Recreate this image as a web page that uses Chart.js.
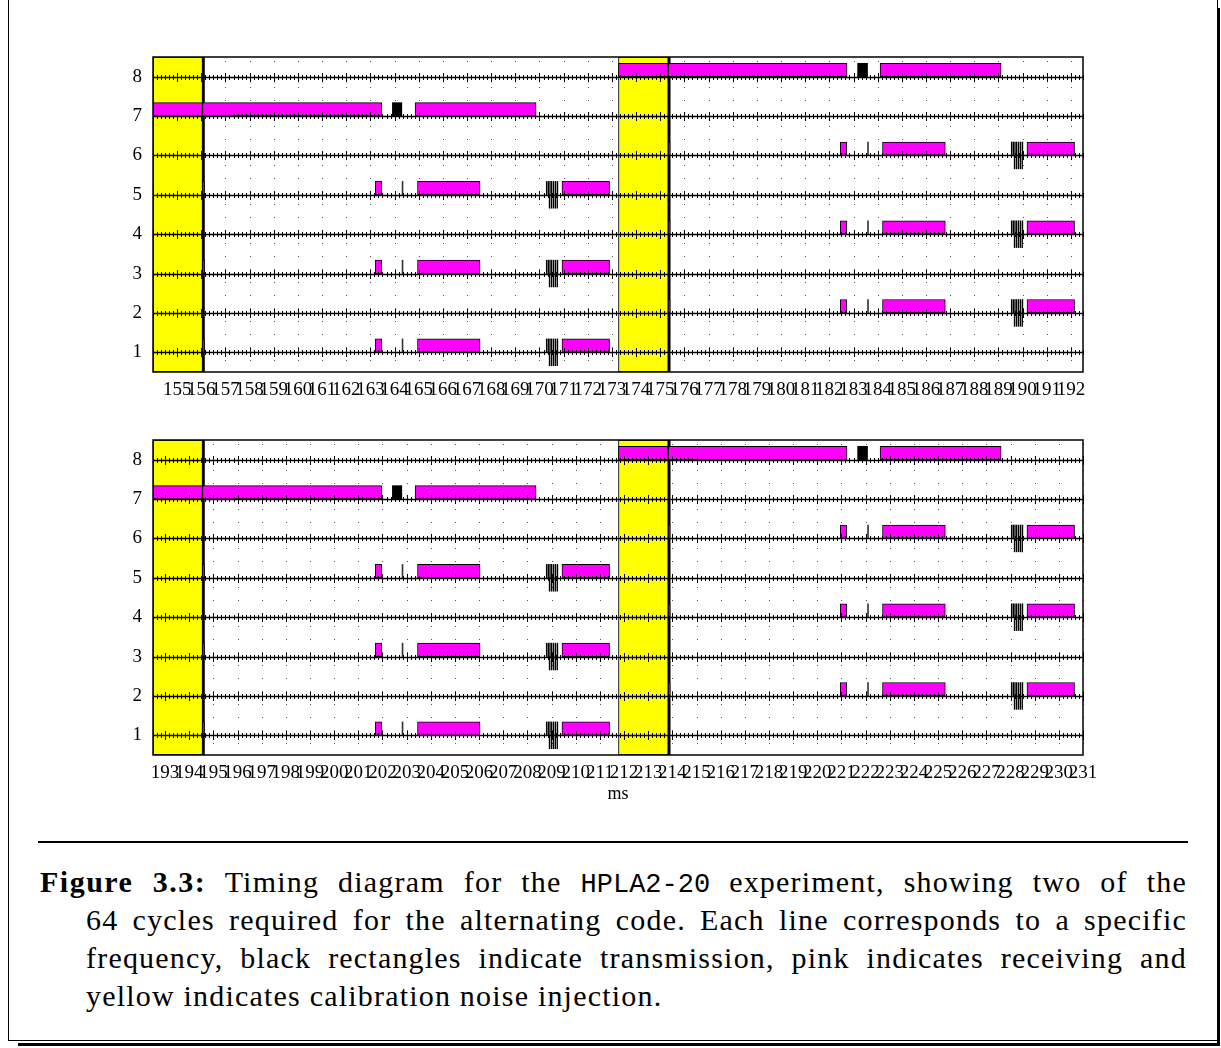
<!DOCTYPE html>
<html><head><meta charset="utf-8">
<script src="https://cdn.jsdelivr.net/npm/chart.js@4.4.1/dist/chart.umd.min.js"></script>
<style>
html,body{margin:0;padding:0;background:#fff;width:1221px;height:1048px;overflow:hidden;position:relative;font-family:"Liberation Serif",serif;color:#000;}
canvas{position:absolute;left:0;}
#c1{top:0}
#c2{top:410px}
#ms{position:absolute;left:568px;width:100px;text-align:center;top:783px;font-size:18px;}
#frame{position:absolute;left:8px;top:-1px;width:1208px;height:1040px;border:1px solid #000;}
#shadowB{position:absolute;left:18px;top:1043px;width:1202px;height:3px;background:#000;}
#shadowR{position:absolute;left:1217px;top:8px;width:3px;height:1038px;background:#000;}
#rule{position:absolute;left:38px;top:841px;width:1150px;height:2px;background:#000;}
#cap{position:absolute;left:40px;top:863px;width:1147px;font-size:30px;letter-spacing:1.2px;}
#cap .ln{height:38px;line-height:38px;text-align:justify;text-align-last:justify;white-space:normal;}
#cap .ln *{line-height:38px;}
#cap .in{padding-left:46px;}
#cap .last{text-align:left;text-align-last:left;}
#cap b{letter-spacing:1.5px;}
#cap .tt{font-family:"Liberation Mono",monospace;font-size:27px;letter-spacing:0;}
</style></head>
<body>
<div id="frame"></div><div id="shadowB"></div><div id="shadowR"></div>
<canvas id="c1" width="1221" height="410"></canvas>
<canvas id="c2" width="1221" height="420"></canvas>
<div id="ms">ms</div>
<div id="rule"></div>
<div id="cap">
<div class="ln"><b>Figure 3.3:</b> Timing diagram for the <span class="tt">HPLA2-20</span> experiment, showing two of the</div>
<div class="ln in">64 cycles required for the alternating code. Each line corresponds to a specific</div>
<div class="ln in">frequency, black rectangles indicate transmission, pink indicates receiving and</div>
<div class="ln in last">yellow indicates calibration noise injection.</div>
</div>
<script>
// ---------- data ----------
const channels = [1, 2, 3, 4, 5, 6, 7, 8];
const xTicksTop = [155,156,157,158,159,160,161,162,163,164,165,166,167,168,169,170,171,172,173,174,175,176,177,178,179,180,181,182,183,184,185,186,187,188,189,190,191,192];
const xTicksBottom = [193,194,195,196,197,198,199,200,201,202,203,204,205,206,207,208,209,210,211,212,213,214,215,216,217,218,219,220,221,222,223,224,225,226,227,228,229,230,231];
const xRangeTop = [154, 192.5];
const xRangeBottom = [192.5, 231];

// calibration noise injection (yellow)
const calTop = [[154.0, 156.05], [173.27, 175.33]];
const calBottom = [[192.5, 194.55], [211.77, 213.83]];
const calEdgeTop = [[156.05, 156.13], [175.33, 175.41]];
const calEdgeBottom = [[194.55, 194.63], [213.83, 213.91]];

// receiving (pink): [channel, start, end]
const rxTop = [
  [1,163.20,163.47],[1,164.95,167.54],[1,170.93,172.90],
  [3,163.20,163.47],[3,164.95,167.54],[3,170.93,172.90],
  [5,163.20,163.47],[5,164.95,167.54],[5,170.93,172.90],
  [2,182.45,182.72],[2,184.20,186.80],[2,190.18,192.15],
  [4,182.45,182.72],[4,184.20,186.80],[4,190.18,192.15],
  [6,182.45,182.72],[6,184.20,186.80],[6,190.18,192.15],
  [7,154.00,156.05],[7,156.05,163.47],[7,164.85,169.86],
  [8,173.27,175.33],[8,175.33,182.73],[8,184.10,189.11]
];
const rxBottom = [
  [1,201.70,201.97],[1,203.45,206.04],[1,209.43,211.40],
  [3,201.70,201.97],[3,203.45,206.04],[3,209.43,211.40],
  [5,201.70,201.97],[5,203.45,206.04],[5,209.43,211.40],
  [2,220.95,221.22],[2,222.70,225.30],[2,228.68,230.65],
  [4,220.95,221.22],[4,222.70,225.30],[4,228.68,230.65],
  [6,220.95,221.22],[6,222.70,225.30],[6,228.68,230.65],
  [7,192.50,194.55],[7,194.55,201.97],[7,203.35,208.36],
  [8,211.77,213.83],[8,213.83,221.23],[8,222.60,227.61]
];
// short receive marks right after calibration
const rxMarkTop = [[1,156.05,156.13],[3,156.05,156.13],[5,156.05,156.13],[2,175.33,175.41],[4,175.33,175.41],[6,175.33,175.41]];
const rxMarkBottom = [[1,194.55,194.63],[3,194.55,194.63],[5,194.55,194.63],[2,213.83,213.91],[4,213.83,213.91],[6,213.83,213.91]];

// transmission (black rectangles)
const txTop = [[7,163.91,164.30],[8,183.17,183.58]];
const txBottom = [[7,202.41,202.80],[8,221.67,222.08]];
const txThinTop = [[1,164.31,164.35],[3,164.31,164.35],[5,164.31,164.35],[2,183.58,183.62],[4,183.58,183.62],[6,183.58,183.62]];
const txThinBottom = [[1,202.81,202.85],[3,202.81,202.85],[5,202.81,202.85],[2,222.08,222.12],[4,222.08,222.12],[6,222.08,222.12]];

// alternating code pulses
const codeStartTop = [[1,170.28],[3,170.28],[5,170.28],[2,189.53],[4,189.53],[6,189.53]];
const codeStartBottom = [[1,208.78],[3,208.78],[5,208.78],[2,228.03],[4,228.03],[6,228.03]];
const codeUpOffsets = [0.00, 0.07, 0.14, 0.21, 0.29, 0.37, 0.45];
const codeDownOffsets = [0.12, 0.20, 0.28, 0.36, 0.44];
const codePulseLen = 0.03;

// ---------- drawing ----------
const FONT = '"Liberation Serif", "Times New Roman", serif';

const timingPlugin = {
  id: 'timing',
  beforeDatasetsDraw(chart) {
    const {ctx, chartArea: a, scales: {x}} = chart;
    ctx.save();
    ctx.strokeStyle = '#555';
    ctx.lineWidth = 1;
    ctx.setLineDash([1, 12]);
    x.ticks.forEach(t => {
      const px = Math.round(x.getPixelForValue(t.value)) + 0.5;
      ctx.beginPath(); ctx.moveTo(px, a.top + 4); ctx.lineTo(px, a.bottom); ctx.stroke();
    });
    ctx.restore();
  },
  afterDatasetsDraw(chart) {
    const {ctx, chartArea: a, scales: {x, y}} = chart;
    ctx.save();
    ctx.strokeStyle = '#000';
    channels.forEach(ch => {
      const py = Math.round(y.getPixelForValue(ch)) + 0.5;
      ctx.lineWidth = 1.5;
      ctx.beginPath(); ctx.moveTo(a.left, py); ctx.lineTo(a.right, py); ctx.stroke();
      ctx.lineWidth = 1;
      const k0 = Math.ceil(x.min * 6), k1 = Math.floor(x.max * 6);
      for (let k = k0; k <= k1; k++) {
        const px = Math.round(x.getPixelForValue(k / 6)) + 0.5;
        const len = (k % 6 === 0) ? 4.5 : 2.5;
        ctx.beginPath(); ctx.moveTo(px, py - len); ctx.lineTo(px, py + len); ctx.stroke();
      }
    });
    ctx.lineWidth = 1.5;
    ctx.strokeRect(a.left, a.top, a.right - a.left, a.bottom - a.top);
    ctx.restore();
  }
};

function seg(list) { return list.map(([ch, s, e]) => ({x: [s, e], y: ch})); }
function band(list) { return list.map(([s, e]) => ({x: [s, e], y: 'cal'})); }
function code(starts, offs) {
  const out = [];
  starts.forEach(([ch, t0]) => offs.forEach(o => out.push({x: [t0 + o, t0 + o + codePulseLen], y: ch})));
  return out;
}

function makeChart(id, p) {
  const barBase = {type: 'bar', grouped: false, borderSkipped: false};
  return new Chart(document.getElementById(id), {
    type: 'bar',
    data: {
      datasets: [
        Object.assign({}, barBase, {label: 'cal', yAxisID: 'yBand', data: band(p.cal), backgroundColor: '#ffff00', borderColor: '#000', borderWidth: 1, barPercentage: 1, categoryPercentage: 1, order: 10}),
        Object.assign({}, barBase, {label: 'calEdge', yAxisID: 'yBand', data: band(p.calEdge), backgroundColor: '#000', borderWidth: 0, barPercentage: 1, categoryPercentage: 1, order: 9}),
        Object.assign({}, barBase, {label: 'rx', yAxisID: 'yUp', data: seg(p.rx), backgroundColor: '#ff00ff', borderColor: '#000', borderWidth: 1, barThickness: 13.4, order: 6}),
        Object.assign({}, barBase, {label: 'tx', yAxisID: 'yUp', data: seg(p.tx), backgroundColor: '#000', borderColor: '#000', borderWidth: 0, barThickness: 13.4, order: 5}),
        Object.assign({}, barBase, {label: 'txThin', yAxisID: 'yUp', data: seg(p.txThin), backgroundColor: '#333', borderWidth: 0, barThickness: 13.4, order: 5}),
        Object.assign({}, barBase, {label: 'codeUp', yAxisID: 'yUp', data: code(p.codeStart, codeUpOffsets), backgroundColor: '#000', borderWidth: 0, barThickness: 13.4, order: 4}),
        Object.assign({}, barBase, {label: 'codeDown', yAxisID: 'yDown', data: code(p.codeStart, codeDownOffsets), backgroundColor: '#000', borderWidth: 0, barThickness: 13.4, order: 4}),
        Object.assign({}, barBase, {label: 'rxMark', yAxisID: 'yUp', data: seg(p.rxMark), backgroundColor: '#ff00ff', borderColor: '#000', borderWidth: 1, barThickness: 13.4, order: 3})
      ]
    },
    options: {
      indexAxis: 'y',
      responsive: false,
      animation: false,
      events: [],
      layout: {padding: {top: p.padTop, right: 138, bottom: 0, left: 0}},
      plugins: {legend: {display: false}, tooltip: {enabled: false}},
      scales: {
        x: {
          type: 'linear', position: 'bottom', min: p.range[0], max: p.range[1],
          afterBuildTicks: s => { s.ticks = p.ticks.map(v => ({value: v})); },
          afterFit: s => { s.height = p.xAxisH; },
          ticks: {autoSkip: false, maxRotation: 0, minRotation: 0, padding: 7, color: '#000', font: {family: FONT, size: 19}, callback: v => String(v)},
          grid: {display: false, drawTicks: false},
          border: {display: false}
        },
        y: {
          type: 'linear', position: 'left', min: 0.5, max: 8.5, offset: false,
          afterBuildTicks: s => { s.ticks = channels.map(v => ({value: v})); },
          afterFit: s => { s.width = 153; },
          ticks: {padding: 11, color: '#000', font: {family: FONT, size: 19}, callback: v => String(v)},
          grid: {display: false, drawTicks: false},
          border: {display: false}
        },
        yUp: {type: 'linear', display: false, min: 0.33, max: 8.33, offset: false},
        yDown: {type: 'linear', display: false, min: 0.67, max: 8.67, offset: false},
        yBand: {type: 'category', display: false, labels: ['cal'], offset: true}
      }
    },
    plugins: [timingPlugin]
  });
}

makeChart('c1', {range: xRangeTop, ticks: xTicksTop, cal: calTop, calEdge: calEdgeTop, rx: rxTop, rxMark: rxMarkTop, tx: txTop, txThin: txThinTop, codeStart: codeStartTop, padTop: 57, xAxisH: 38});
makeChart('c2', {range: xRangeBottom, ticks: xTicksBottom, cal: calBottom, calEdge: calEdgeBottom, rx: rxBottom, rxMark: rxMarkBottom, tx: txBottom, txThin: txThinBottom, codeStart: codeStartBottom, padTop: 30, xAxisH: 75});
</script>
</body></html>
